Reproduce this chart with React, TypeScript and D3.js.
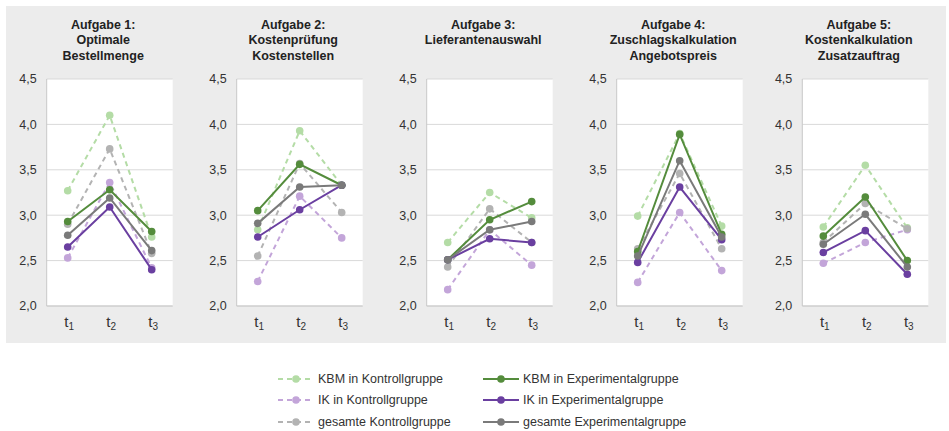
import { FC } from 'react';
import * as d3 from 'd3';

// Categories and labels
const tasks = [
  ['Aufgabe 1:', 'Optimale', 'Bestellmenge'],
  ['Aufgabe 2:', 'Kostenprüfung', 'Kostenstellen'],
  ['Aufgabe 3:', 'Lieferantenauswahl'],
  ['Aufgabe 4:', 'Zuschlagskalkulation', 'Angebotspreis'],
  ['Aufgabe 5:', 'Kostenkalkulation', 'Zusatzauftrag'],
];
const times = ['1', '2', '3'];
const yTicks = [2.0, 2.5, 3.0, 3.5, 4.0, 4.5];

const seriesNames = [
  'KBM in Kontrollgruppe',
  'IK in Kontrollgruppe',
  'gesamte Kontrollgruppe',
  'KBM in Experimentalgruppe',
  'IK in Experimentalgruppe',
  'gesamte Experimentalgruppe',
];

// values per task: [t1, t2, t3]
const kbmKontroll = [
  [3.27, 4.1, 2.76],
  [2.84, 3.93, 3.33],
  [2.7, 3.25, 2.97],
  [2.99, 3.9, 2.88],
  [2.87, 3.55, 2.86],
];
const ikKontroll = [
  [2.53, 3.36, 2.42],
  [2.27, 3.21, 2.75],
  [2.18, 2.84, 2.45],
  [2.26, 3.03, 2.39],
  [2.47, 2.7, 2.84],
];
const gesamtKontroll = [
  [2.9, 3.73, 2.58],
  [2.55, 3.57, 3.03],
  [2.43, 3.07, 2.7],
  [2.63, 3.46, 2.63],
  [2.7, 3.13, 2.85],
];
const kbmExperimental = [
  [2.93, 3.28, 2.82],
  [3.05, 3.56, 3.33],
  [2.51, 2.95, 3.15],
  [2.6, 3.89, 2.79],
  [2.77, 3.2, 2.5],
];
const ikExperimental = [
  [2.65, 3.09, 2.4],
  [2.76, 3.06, 3.33],
  [2.51, 2.74, 2.7],
  [2.48, 3.31, 2.73],
  [2.59, 2.83, 2.35],
];
const gesamtExperimental = [
  [2.78, 3.19, 2.61],
  [2.91, 3.31, 3.33],
  [2.51, 2.84, 2.93],
  [2.55, 3.6, 2.76],
  [2.68, 3.01, 2.43],
];

const seriesData = [kbmKontroll, ikKontroll, gesamtKontroll, kbmExperimental, ikExperimental, gesamtExperimental];
const colors = ['#b4dca6', '#c3a5d9', '#b3b3b3', '#548c3c', '#6a3fa0', '#7a7a7a'];
const dashed = [true, true, true, false, false, false];

const panelLeft = [46.7, 236.7, 426.7, 616.7, 802.3];
const plotW = 126;
const plotTop = 79;
const plotBottom = 306;
const font = '"Liberation Sans", Arial, sans-serif';

const Panel: FC<{ idx: number }> = ({ idx }) => {
  const left = panelLeft[idx];
  const x = d3.scalePoint<string>().domain(times).range([left, left + plotW]).padding(0.5);
  const y = d3.scaleLinear().domain([2, 4.5]).range([plotBottom, plotTop]);
  const line = d3
    .line<number>()
    .x((_, i) => x(times[i])!)
    .y((d) => y(d));
  const titleX = left + 56.5;
  return (
    <g>
      <rect x={left} y={plotTop} width={plotW} height={plotBottom - plotTop} fill="#ffffff" />
      {yTicks.map((t) => (
        <g key={t}>
          <line x1={left} x2={left + plotW} y1={y(t)} y2={y(t)} stroke="#d9d9d9" strokeWidth={1} />
          <text x={left - 10} y={y(t)} dy="0.35em" textAnchor="end" fontSize={12.5} fill="#333" fontFamily={font}>
            {d3.format('.1f')(t).replace('.', ',')}
          </text>
        </g>
      ))}
      <line x1={left} x2={left} y1={plotTop} y2={plotBottom} stroke="#c8c8c8" strokeWidth={1} />
      <line x1={left} x2={left + plotW} y1={plotBottom} y2={plotBottom} stroke="#c8c8c8" strokeWidth={1} />
      {times.map((t) => (
        <text key={t} x={x(t)! + 1.5} y={327} textAnchor="middle" fontSize={15} fill="#333" fontFamily={font}>
          t
          <tspan fontSize={10} dy={3}>
            {t}
          </tspan>
        </text>
      ))}
      {tasks[idx].map((l, i) => (
        <text key={i} x={titleX} y={29 + i * 15.3} textAnchor="middle" fontSize={12.5} fontWeight="bold" fill="#222" fontFamily={font}>
          {l}
        </text>
      ))}
      {seriesData.map((s, si) => (
        <g key={si}>
          <path
            d={line(s[idx]) || ''}
            fill="none"
            stroke={colors[si]}
            strokeWidth={2}
            strokeDasharray={dashed[si] ? '5,4' : undefined}
          />
          {s[idx].map((v, i) => (
            <circle key={i} cx={x(times[i])} cy={y(v)} r={3.8} fill={colors[si]} />
          ))}
        </g>
      ))}
    </g>
  );
};

const App: FC = () => {
  const legendCols = [278, 483];
  const legendRows = [379, 400, 422];
  return (
    <svg width={949} height={431} style={{ position: 'absolute', left: 0, top: 0, background: '#fff' }}>
      <rect x={6} y={6} width={940} height={337} fill="#ececec" />
      {tasks.map((_, i) => (
        <Panel key={i} idx={i} />
      ))}
      {seriesNames.map((name, i) => {
        const lx = legendCols[Math.floor(i / 3)];
        const ly = legendRows[i % 3];
        return (
          <g key={name}>
            <line x1={lx} x2={lx + 36} y1={ly} y2={ly} stroke={colors[i]} strokeWidth={2} strokeDasharray={dashed[i] ? '5,4' : undefined} />
            <circle cx={lx + 18} cy={ly} r={3.8} fill={colors[i]} />
            <text x={lx + 40} y={ly} dy="0.35em" fontSize={12.5} fill="#333" fontFamily={font}>
              {name}
            </text>
          </g>
        );
      })}
    </svg>
  );
};

export default App;
